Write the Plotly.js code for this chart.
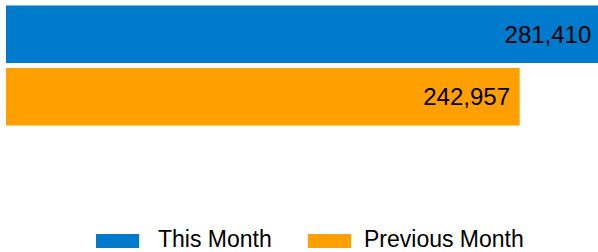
<!DOCTYPE html>
<html>
<head>
<meta charset="utf-8">
<script src="https://cdn.plot.ly/plotly-3.0.1.min.js"></script>
<style>html,body{margin:0;padding:0;background:#fff;}#chart{width:598px;height:252px;}</style>
</head>
<body>
<div id="chart"></div>
<script>
const seriesNames = ["This Month", "Previous Month"];
const seriesValues = [281410, 242957];
const seriesColors = ["#007ACC", "#FFA000"];

const FONT = "Arial, 'Liberation Sans', sans-serif";

const traces = seriesNames.map((name, i) => ({
  type: "bar",
  orientation: "h",
  name: name,
  y: [name],
  x: [seriesValues[i]],
  text: [seriesValues[i].toLocaleString("en-US") + "\u00a0"],
  textposition: "inside",
  insidetextanchor: "end",
  textfont: {family: FONT, size: 24, color: "#000"},
  marker: {color: seriesColors[i]},
  hoverinfo: "none",
  cliponaxis: true
}));

// custom legend (large swatches) built from the series arrays
const legendX = [0.152, 0.510];
const textX = [0.2534, 0.6013];
const shapes = seriesNames.map((n, i) => ({
  type: "rect", xref: "paper", yref: "paper",
  x0: legendX[i], x1: legendX[i] + 0.073, y0: -0.96, y1: -0.848,
  fillcolor: seriesColors[i], line: {width: 0}
}));
const annotations = seriesNames.map((n, i) => ({
  xref: "paper", yref: "paper", x: textX[i], y: -0.888,
  xanchor: "left", yanchor: "middle", showarrow: false,
  text: n, font: {family: FONT, size: 23, color: "#000"}
}));

const layout = {
  width: 598, height: 252,
  margin: {l: 6, r: 0, t: 3, b: 124, pad: 0},
  paper_bgcolor: "#fff", plot_bgcolor: "#fff",
  barmode: "overlay",
  bargap: 0.08,
  showlegend: false,
  xaxis: {range: [0, 280000], visible: false, fixedrange: true},
  yaxis: {autorange: "reversed", visible: false, fixedrange: true, categoryorder: "array", categoryarray: seriesNames},
  shapes: shapes,
  annotations: annotations,
  font: {family: FONT}
};

Plotly.newPlot("chart", traces, layout, {displayModeBar: false, staticPlot: true});
</script>
</body>
</html>
